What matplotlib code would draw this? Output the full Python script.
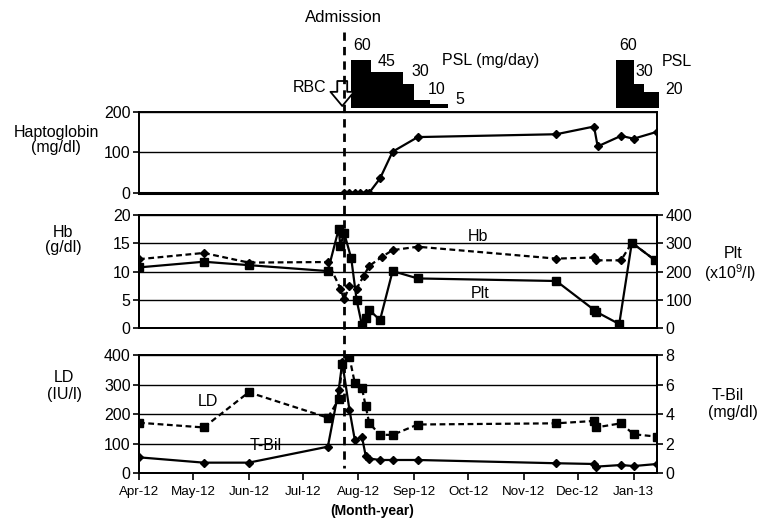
import matplotlib
matplotlib.use('Agg')
import matplotlib.pyplot as plt
import matplotlib.dates as mdates
import matplotlib.transforms as mtrans
import pandas as pd

plt.rcParams['font.family'] = ['Liberation Sans', 'DejaVu Sans']
plt.rcParams['mathtext.default'] = 'regular'

# ---- data ----
admission_date = '2012-07-24'
rbc_date = '2012-07-23'

psl1_dates = ['2012-07-28', '2012-08-08', '2012-08-26', '2012-09-01', '2012-09-10', '2012-09-20']
psl1_dose = [60, 45, 30, 10, 5]
psl2_dates = ['2012-12-22', '2013-01-01', '2013-01-07', '2013-01-15']
psl2_dose = [60, 30, 20]

hapto_dates = ['2012-07-24', '2012-07-27', '2012-07-30', '2012-08-02', '2012-08-05', '2012-08-07',
               '2012-08-13', '2012-08-20', '2012-09-03', '2012-11-19', '2012-12-10', '2012-12-12',
               '2012-12-25', '2013-01-01', '2013-01-14']
hapto = [0, 0, 0, 0, 0, 0, 35, 101, 137, 144, 163, 114, 140, 133, 150]

hb_dates = ['2012-04-01', '2012-05-07', '2012-06-01', '2012-07-15', '2012-07-22', '2012-07-24',
            '2012-07-27', '2012-07-31', '2012-08-04', '2012-08-07', '2012-08-14', '2012-08-20',
            '2012-09-03', '2012-11-19', '2012-12-10', '2012-12-11', '2012-12-25', '2012-12-31',
            '2013-01-13']
hb = [12.2, 13.3, 11.6, 11.7, 7.0, 5.1, 7.4, 7.0, 9.3, 11.0, 12.6, 13.8, 14.4, 12.3, 12.5, 12.0,
      12.0, 15.1, 12.0]

plt_dates = ['2012-04-01', '2012-05-07', '2012-06-01', '2012-07-15', '2012-07-21', '2012-07-22',
             '2012-07-24', '2012-07-28', '2012-07-31', '2012-08-03', '2012-08-05', '2012-08-07',
             '2012-08-13', '2012-08-20', '2012-09-03', '2012-11-19', '2012-12-10', '2012-12-11',
             '2012-12-24', '2012-12-31', '2013-01-13']
plt_vals = [215, 235, 223, 202, 350, 290, 338, 247, 100, 10, 36, 65, 29, 202, 176, 167, 65, 59,
            15, 302, 240]

ld_dates = ['2012-04-01', '2012-05-07', '2012-06-01', '2012-07-15', '2012-07-21', '2012-07-23',
            '2012-07-27', '2012-07-30', '2012-08-03', '2012-08-05', '2012-08-07', '2012-08-13',
            '2012-08-20', '2012-09-03', '2012-11-19', '2012-12-10', '2012-12-11', '2012-12-25',
            '2013-01-01', '2013-01-14']
ld = [171, 155, 274, 188, 250, 370, 392, 305, 287, 228, 170, 130, 130, 165, 169, 177, 155, 169,
      132, 124]

tbil_dates = ld_dates
tbil = [1.08, 0.72, 0.72, 1.8, 5.6, 7.5, 4.3, 2.25, 2.45, 1.2, 1.0, 0.9, 0.9, 0.9, 0.68, 0.63,
        0.45, 0.56, 0.49, 0.63]

x_start, x_end = '2012-04-01', '2013-01-14'

# ---- layout (pixel based) ----
W, H = 761, 519
L, R = 139, 657
fig = plt.figure(figsize=(W / 100, H / 100), dpi=100)


def box(top, bottom):
    return [L / W, 1 - bottom / H, (R - L) / W, (bottom - top) / H]


def ftxt(x, y, s, **kw):
    kw.setdefault('ha', 'center')
    kw.setdefault('va', 'center')
    kw.setdefault('fontsize', 11.5)
    fig.text(x / W, 1 - y / H, s, **kw)


d = pd.to_datetime
ax_h = fig.add_axes(box(111.5, 192.7))
ax_hb = fig.add_axes(box(215, 328.3), sharex=ax_h)
ax_ld = fig.add_axes(box(355, 473.3), sharex=ax_h)
ax_psl = fig.add_axes(box(30, 108), sharex=ax_h)
ax_plt = ax_hb.twinx()
ax_tb = ax_ld.twinx()

lw = 1.6
dash = (0, (2.6, 1.6))

# haptoglobin
ax_h.plot(d(hapto_dates), hapto, '-', color='black', lw=lw, marker='D', ms=4.2)
ax_h.set_ylim(0, 200)
ax_h.set_yticks([0, 100, 200])

# Hb / Plt
ax_hb.plot(d(hb_dates), hb, color='black', lw=lw, ls=dash, marker='D', ms=4.5)
ax_hb.set_ylim(0, 20)
ax_hb.set_yticks([0, 5, 10, 15, 20])
ax_plt.plot(d(plt_dates), plt_vals, '-', color='black', lw=lw, marker='s', ms=6)
ax_plt.set_ylim(0, 400)
ax_plt.set_yticks([0, 100, 200, 300, 400])

# LD / T-Bil
ax_ld.plot(d(ld_dates), ld, color='black', lw=lw, ls=dash, marker='s', ms=6)
ax_ld.set_ylim(0, 400)
ax_ld.set_yticks([0, 100, 200, 300, 400])
ax_tb.plot(d(tbil_dates), tbil, '-', color='black', lw=lw, marker='D', ms=4.2)
ax_tb.set_ylim(0, 8)
ax_tb.set_yticks([0, 2, 4, 6, 8])

for ax in (ax_h, ax_hb, ax_ld):
    ax.yaxis.grid(True, color='black', lw=1.0)
    ax.set_axisbelow(True)
    for s in ax.spines.values():
        s.set_linewidth(1.4)
    ax.tick_params(axis='y', direction='out', length=4, width=1.2, labelsize=11.5, pad=2)
for ax in (ax_plt, ax_tb):
    for s in ax.spines.values():
        s.set_linewidth(1.4)
    ax.tick_params(axis='y', direction='out', length=4, width=1.2, labelsize=11.5, pad=2)
ax_h.spines['bottom'].set_linewidth(2.2)

for ax in (ax_h, ax_hb):
    ax.tick_params(axis='x', bottom=False, labelbottom=False)

ax_ld.xaxis.set_major_locator(mdates.MonthLocator())
ax_ld.xaxis.set_major_formatter(mdates.DateFormatter('%b-%y'))
ax_ld.tick_params(axis='x', direction='out', length=5, width=1.2, labelsize=9.6, pad=4)
ax_ld.set_xlim(d(x_start), d(x_end))

# PSL steps
ax_psl.axis('off')
ax_psl.set_ylim(0, 97.5)
for dates, dose in ((psl1_dates, psl1_dose), (psl2_dates, psl2_dose)):
    xs = d(dates)
    ys = dose + [dose[-1]]
    ax_psl.fill_between(xs, ys, step='post', color='black', lw=0, clip_on=False)

# admission line and RBC arrow
trans = mtrans.blended_transform_factory(ax_ld.transData, fig.transFigure)
adm = mdates.date2num(d(admission_date))
fig.add_artist(plt.Line2D([adm, adm], [1 - 32 / H, 1 - 468 / H], transform=trans,
                          color='black', lw=2.0, ls=(0, (3, 2.2)), zorder=5))
rbc = mdates.date2num(d(rbc_date))
ax_psl.annotate('', xy=(rbc, 1 - 106 / H), xytext=(rbc, 1 - 81 / H), xycoords=trans,
                textcoords=trans,
                arrowprops=dict(arrowstyle='simple,head_length=0.6,head_width=1.0,tail_width=0.42',
                                fc='white', ec='black', lw=1.3, shrinkA=0, shrinkB=0,
                                mutation_scale=17), zorder=6)

# texts
ftxt(343, 18, 'Admission', fontsize=12)
ftxt(310, 88, 'RBC', fontsize=11.5)
for x, y, s in ((362, 45, '60'), (387, 62, '45'), (420, 71, '30'), (437, 89, '10'),
                (460, 100, '5'), (628, 45, '60'), (644, 71, '30'), (674, 90, '20')):
    ftxt(x, y, s, fontsize=11.5)
ftxt(442, 61, 'PSL (mg/day)', ha='left', fontsize=11.5)
ftxt(662, 61, 'PSL', ha='left', fontsize=11.5)

ftxt(56, 140, 'Haptoglobin\n(mg/dl)', linespacing=1.05)
ftxt(63, 240, 'Hb\n(g/dl)', linespacing=1.05)
ftxt(64, 386, 'LD\n(IU/l)', linespacing=1.2)
ftxt(733, 253, 'Plt')
ftxt(730, 273, '(x10$^{9}$/l)')
ftxt(728, 395, 'T-Bil')
ftxt(733, 412, '(mg/dl)')

ftxt(478, 237, 'Hb')
ftxt(480, 293, 'Plt')
ftxt(208, 402, 'LD')
ftxt(266, 446, 'T-Bil')
ftxt(372, 511, '(Month-year)', fontsize=10, fontweight='bold')

fig.savefig('out.png', dpi=100)
